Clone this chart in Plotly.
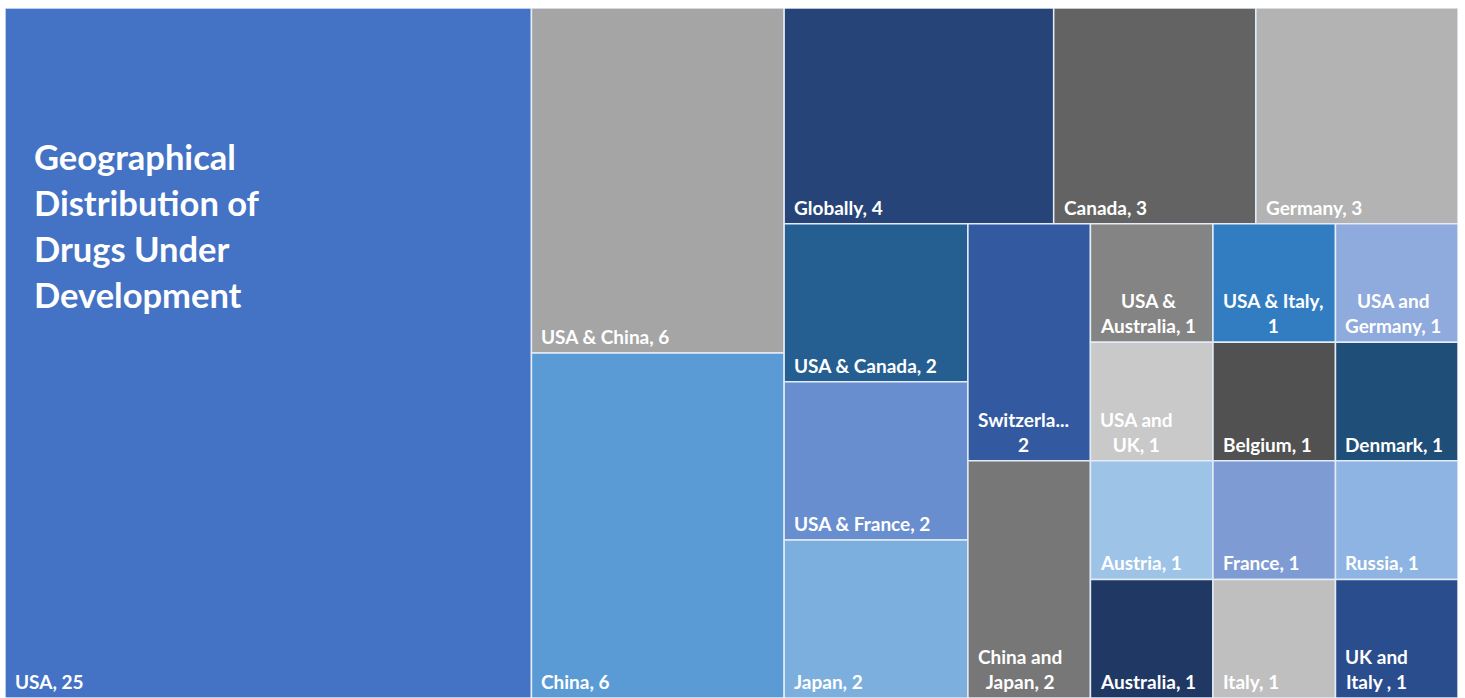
import plotly.graph_objects as go

# ---------------- data ----------------
names = ["USA", "USA & China", "China", "Globally", "Canada", "Germany",
         "USA & Canada", "USA & France", "Japan", "Switzerland", "China and Japan",
         "USA & Australia", "USA & Italy", "USA and Germany", "USA and UK",
         "Austria", "Australia", "Belgium", "Denmark", "France", "Italy",
         "Russia", "UK and Italy"]
values = [25, 6, 6, 4, 3, 3,
          2, 2, 2, 2, 2,
          1, 1, 1, 1,
          1, 1, 1, 1, 1, 1,
          1, 1]
labels = ["USA, 25", "USA & China, 6", "China, 6", "Globally, 4", "Canada, 3", "Germany, 3",
          "USA & Canada, 2", "USA & France, 2", "Japan, 2", "Switzerla...<br>2", "China and<br>Japan, 2",
          "USA &<br>Australia, 1", "USA & Italy,<br>1", "USA and<br>Germany, 1", "USA and<br>UK, 1",
          "Austria, 1", "Australia, 1", "Belgium, 1", "Denmark, 1", "France, 1", "Italy, 1",
          "Russia, 1", "UK and<br>Italy , 1"]
colors = ["#4472C4", "#A5A5A5", "#5B9BD5", "#264478", "#636363", "#B3B3B3",
          "#255E91", "#698ED0", "#7CAFDD", "#335AA1", "#777777",
          "#848484", "#327DC2", "#8FAADC", "#C9C9C9",
          "#9DC3E6", "#203864", "#515151", "#1F4E79", "#7F9BD4", "#BFBFBF",
          "#8EB4E3", "#294D8D"]
title_lines = ["Geographical", "Distribution of", "Drugs Under", "Development"]

# ---------------- layout (squarified treemap) ----------------
W, H = 1453.0, 690.0


def squarify(vals, x0, y0, x1, y1, ratio=0.85):
    rects = [None] * len(vals)
    value = float(sum(vals))
    n = len(vals)
    i0 = 0
    while i0 < n:
        dx, dy = x1 - x0, y1 - y0
        i1 = i0
        s = vals[i1]
        i1 += 1
        mn = mx = s
        alpha = max(dy / dx, dx / dy) / (value * ratio)
        beta = s * s * alpha
        minr = max(mx / beta, beta / mn)
        while i1 < n:
            v = vals[i1]
            s2 = s + v
            mn2, mx2 = min(mn, v), max(mx, v)
            beta = s2 * s2 * alpha
            nr = max(mx2 / beta, beta / mn2)
            if nr > minr:
                break
            s, mn, mx, minr = s2, mn2, mx2, nr
            i1 += 1
        row = range(i0, i1)
        if dx < dy:
            ny = y0 + dy * s / value
            cx = x0
            for i in row:
                w = dx * vals[i] / s
                rects[i] = (cx, y0, cx + w, ny)
                cx += w
            y0 = ny
        else:
            nx = x0 + dx * s / value
            cy = y0
            for i in row:
                h = dy * vals[i] / s
                rects[i] = (x0, cy, nx, cy + h)
                cy += h
            x0 = nx
        value -= s
        i0 = i1
    return rects


rects = squarify(values, 0.0, 0.0, W, H)

fig = go.Figure()
border = "#E3ECF7"
annotations = []
for name, val, lab, col, (a0, b0, a1, b1) in zip(names, values, labels, colors, rects):
    fig.add_trace(go.Scatter(
        x=[a0, a1, a1, a0, a0], y=[b0, b0, b1, b1, b0],
        mode="lines", fill="toself", fillcolor=col,
        line=dict(color=border, width=1.5),
        hoverinfo="text", text=f"{name}, {val}", showlegend=False))
    annotations.append(dict(
        x=a0, y=b1, xref="x", yref="y", text=lab, showarrow=False,
        xanchor="left", yanchor="bottom", align="center",
        xshift=8, yshift=3,
        font=dict(family="Lato", size=19, color="white", weight=700)))

# title inside USA cell
usa = rects[0]
for k, line in enumerate(title_lines):
    annotations.append(dict(
        x=usa[0], y=148 + 46 * k, xref="x", yref="y", text=line, showarrow=False,
        xanchor="left", yanchor="middle", align="left", xshift=27,
        font=dict(family="Lato", size=34.5, color="white", weight=700)))

fig.update_layout(
    width=1465, height=698,
    margin=dict(l=5, r=7, t=8, b=0),
    paper_bgcolor="white", plot_bgcolor="white",
    xaxis=dict(range=[0, W], visible=False, fixedrange=True),
    yaxis=dict(range=[H, 0], visible=False, fixedrange=True),
    annotations=annotations,
    showlegend=False,
)

fig.write_html("out.html")
